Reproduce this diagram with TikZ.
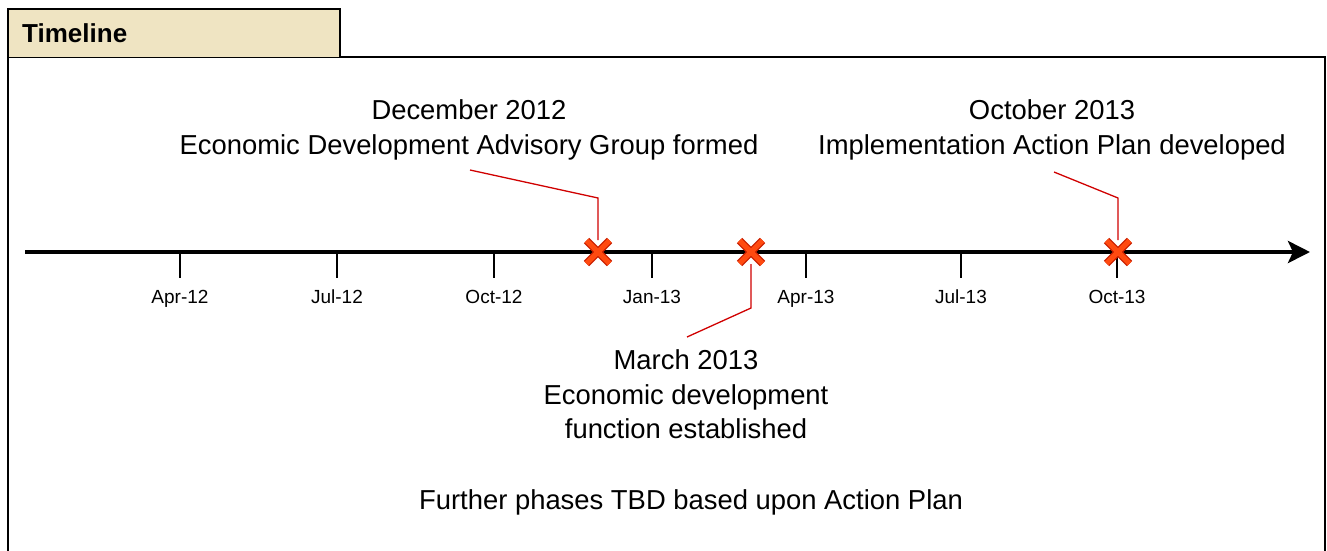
\documentclass[tikz,border=0pt]{standalone}
\usepackage{fontspec}
\setmainfont{Liberation Sans}
\usetikzlibrary{arrows.meta}
\definecolor{tabfill}{HTML}{EFE4C2}
\definecolor{xfill}{HTML}{FF4A10}
\definecolor{xedge}{HTML}{C81E00}
\definecolor{callred}{HTML}{D00000}
\begin{document}
\begin{tikzpicture}[x=1pt,y=-1pt,
  big/.style={font=\fontsize{27.4}{34}\selectfont, inner sep=0pt, anchor=base},
  ticklab/.style={font=\fontsize{19}{22}\selectfont, inner sep=0pt, anchor=base},
  tickline/.style={line width=1.4pt},
  callout/.style={callred, line width=1.3pt},
  xmark/.style={line width=7.5pt, xedge},
  xinner/.style={line width=5pt, xfill}]
\useasboundingbox (0,0) rectangle (1327,550);
% frame
\draw[line width=2.2pt] (8,560) -- (8,57) -- (1325,57) -- (1325,560);
\filldraw[fill=tabfill, draw=black, line width=2.6pt] (8,57) -- (8,9) -- (340,9) -- (340,57);
\draw[line width=2.2pt] (8,57) -- (8,560);
\node[font=\bfseries\fontsize{26}{30}\selectfont, inner sep=0pt, anchor=base west] (title) at (22,42) {Timeline};
% axis
\coordinate (axs) at (25,252);
\coordinate (axe) at (1310,252);
\draw[line width=4.2pt, -{Stealth[length=22pt,width=22pt,inset=5pt]}] (axs) -- (axe);
% ticks
\foreach \x/\l/\n in {180/Apr-12/a,337/Jul-12/b,494/Oct-12/c,652/Jan-13/d,806/Apr-13/e,961/Jul-13/f,1117/Oct-13/g}{
  \coordinate (t\n) at (\x,252);
  \coordinate (tb\n) at (\x,278);
  \draw[tickline] (t\n) -- (tb\n);
  \node[ticklab] (lab\n) at (\x,303.5) {\l};
}
% markers
\foreach \x/\n in {598/1,751/2,1118/3}{
  \coordinate (m\n) at (\x,252);
  \draw[xmark] (\x-11.5,240.5) -- (\x+11.5,263.5) (\x-11.5,263.5) -- (\x+11.5,240.5);
  \draw[xinner] (\x-11.5,240.5) -- (\x+11.5,263.5) (\x-11.5,263.5) -- (\x+11.5,240.5);
}
% callout coordinates
\coordinate (c1a) at (470,170);
\coordinate (c1b) at (598,198);
\coordinate (c1c) at (598,240);
\coordinate (c2a) at (751,264);
\coordinate (c2b) at (751,308);
\coordinate (c2c) at (687,337);
\coordinate (c3a) at (1054,172);
\coordinate (c3b) at (1118,198);
\coordinate (c3c) at (1118,240);
\draw[callout] (c1a) -- (c1b) -- (c1c);
\draw[callout] (c2a) -- (c2b) -- (c2c);
\draw[callout] (c3a) -- (c3b) -- (c3c);
% texts
\node[big] (d1) at (469,119) {December 2012};
\node[big] (d2) at (469,154) {Economic Development Advisory Group formed};
\node[big] (o1) at (1052,119) {October 2013};
\node[big] (o2) at (1052,154) {Implementation Action Plan developed};
\node[big] (r1) at (686,369) {March 2013};
\node[big] (r2) at (686,404) {Economic development};
\node[big] (r3) at (686,438) {function established};
\node[big] (fp) at (691,509) {Further phases TBD based upon Action Plan};
\end{tikzpicture}
\end{document}
